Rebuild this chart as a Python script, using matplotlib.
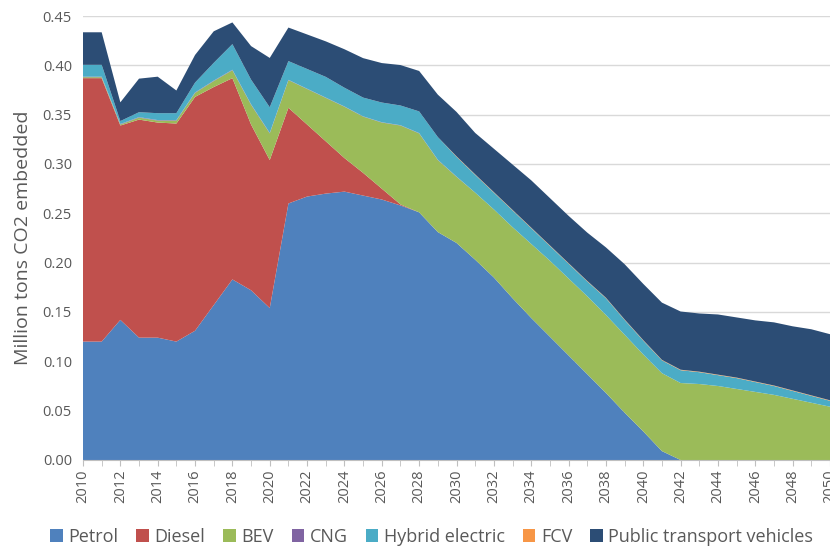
import matplotlib
matplotlib.use("Agg")
import matplotlib.pyplot as plt
from matplotlib.patches import Patch
import numpy as np

years = list(range(2010, 2051))

# cumulative tops, converted to per-series values below
petrol = [0.120, 0.120, 0.142, 0.124, 0.124, 0.120, 0.131, 0.157, 0.183, 0.172, 0.154,
          0.260, 0.267, 0.270, 0.272, 0.268, 0.264, 0.258, 0.251, 0.231, 0.220,
          0.203, 0.185, 0.164, 0.144, 0.125, 0.106, 0.087, 0.068, 0.048, 0.029,
          0.009, 0.000, 0.000, 0.000, 0.000, 0.000, 0.000, 0.000, 0.000, 0.000]
diesel = [0.267, 0.267, 0.197, 0.221, 0.218, 0.221, 0.237, 0.221, 0.204, 0.168, 0.150,
          0.097, 0.073, 0.053, 0.034, 0.023, 0.011, 0.001, 0.000, 0.000, 0.000,
          0.000, 0.000, 0.000, 0.000, 0.000, 0.000, 0.000, 0.000, 0.000, 0.000,
          0.000, 0.000, 0.000, 0.000, 0.000, 0.000, 0.000, 0.000, 0.000, 0.000]
bev = [0.001, 0.001, 0.001, 0.002, 0.002, 0.003, 0.004, 0.006, 0.008, 0.020, 0.027,
       0.028, 0.036, 0.044, 0.052, 0.057, 0.067, 0.080, 0.080, 0.073, 0.067,
       0.068, 0.069, 0.072, 0.075, 0.077, 0.078, 0.079, 0.079, 0.079, 0.078,
       0.079, 0.078, 0.077, 0.075, 0.072, 0.069, 0.066, 0.062, 0.058, 0.054]
cng = [0.0005] * 11 + [0.0003] * 10 + [0.0] * 20
hybrid = [0.012, 0.012, 0.003, 0.005, 0.007, 0.007, 0.010, 0.018, 0.026, 0.025, 0.026,
          0.019, 0.020, 0.021, 0.019, 0.019, 0.020, 0.020, 0.022, 0.023, 0.020,
          0.018, 0.017, 0.017, 0.016, 0.015, 0.015, 0.015, 0.017, 0.015, 0.014,
          0.013, 0.013, 0.012, 0.011, 0.011, 0.010, 0.009, 0.008, 0.007, 0.006]
fcv = [0.0] * 20 + [0.0005] * 21
public = [0.033, 0.033, 0.019, 0.034, 0.037, 0.023, 0.028, 0.032, 0.022, 0.034, 0.050,
          0.034, 0.035, 0.036, 0.039, 0.040, 0.040, 0.041, 0.041, 0.043, 0.045,
          0.042, 0.044, 0.046, 0.048, 0.048, 0.048, 0.049, 0.051, 0.056, 0.057,
          0.058, 0.059, 0.059, 0.061, 0.061, 0.062, 0.064, 0.065, 0.067, 0.067]

labels = ["Petrol", "Diesel", "BEV", "CNG", "Hybrid electric", "FCV", "Public transport vehicles"]
colors = ["#4F81BD", "#C0504D", "#9BBB59", "#8064A2", "#4BACC6", "#F79646", "#2C4D75"]
series = [petrol, diesel, bev, cng, hybrid, fcv, public]

plt.rcParams['font.family'] = ['Open Sans', 'DejaVu Sans']

fig = plt.figure(figsize=(8.3, 5.48), dpi=100)
ax = fig.add_axes([0.1, 0.1606, 0.9, 0.8102])

ax.stackplot(years, *series, colors=colors, labels=labels, linewidth=0)

ax.set_xlim(2010, 2050)
ax.set_ylim(0, 0.45)
ax.set_yticks(np.arange(0, 0.451, 0.05))
ax.set_yticklabels([f"{v:.2f}" for v in np.arange(0, 0.451, 0.05)])
ax.set_xticks(range(2010, 2051, 2))
ax.set_xticks(range(2010, 2051, 1), minor=True)
ax.set_xticklabels([str(y) for y in range(2010, 2051, 2)], rotation=90)

ax.grid(axis='y', color='#D9D9D9', linewidth=1)
ax.set_axisbelow(True)
for s in ['top', 'right', 'left']:
    ax.spines[s].set_visible(False)
ax.spines['bottom'].set_color('#BFBFBF')
ax.tick_params(axis='y', length=0, labelsize=10.5, labelcolor='#595959', pad=8)
ax.tick_params(axis='x', which='both', length=4, color='#BFBFBF', labelsize=10.5,
               labelcolor='#595959', pad=3)

ax.set_ylabel("Million tons CO2 embedded", fontsize=14, color='#595959', labelpad=8)

handles = [Patch(facecolor=c, edgecolor='none') for c in colors]
fig.legend(handles, labels, loc='center', bbox_to_anchor=(0.52, 0.02), ncol=7,
           frameon=False, fontsize=13, labelcolor='#595959', handlelength=0.7,
           handleheight=0.7, handletextpad=0.3, columnspacing=1.0)

fig.savefig("out.png", dpi=100)
